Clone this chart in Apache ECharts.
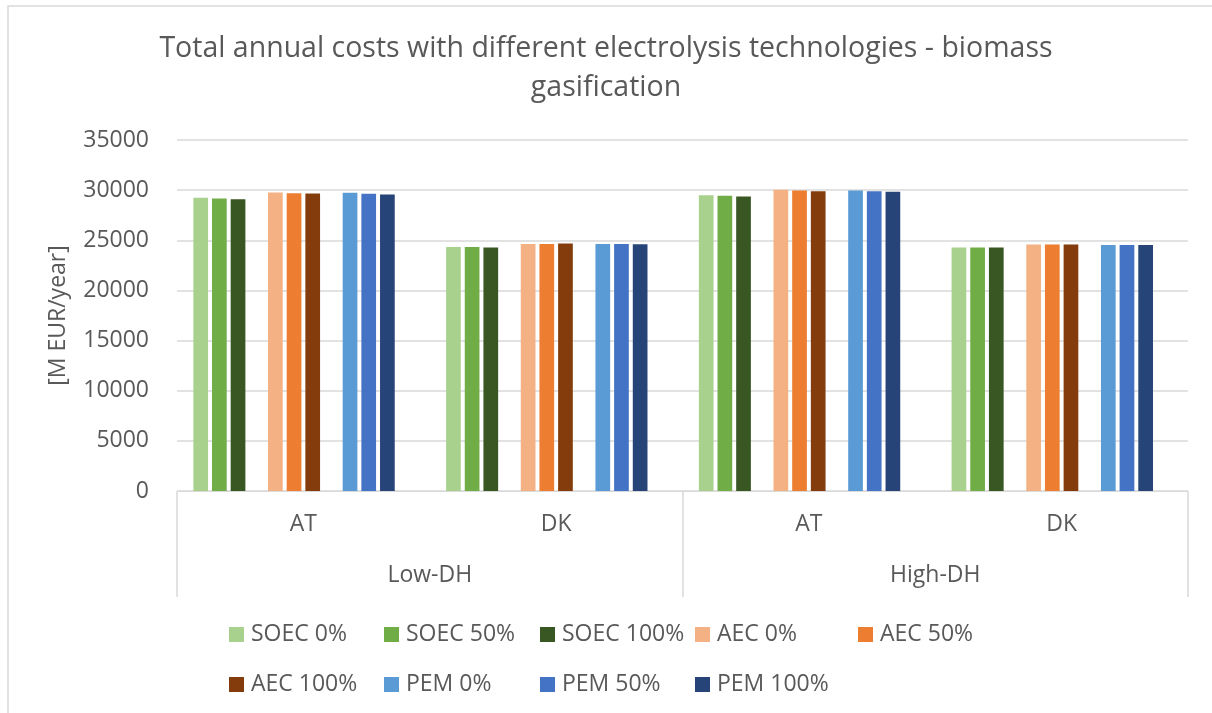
<!DOCTYPE html>
<html>
<head>
<meta charset="utf-8">
<title>Total annual costs - biomass gasification</title>
<script src="https://cdn.jsdelivr.net/npm/echarts@6/dist/echarts.min.js"></script>
<style>
  html, body { margin: 0; padding: 0; background: #ffffff; }
  #chart { width: 1212px; height: 713px; }
</style>
</head>
<body>
<div id="chart"></div>
<script>
// Inner categories (country) and outer categories (district heating level)
const countries = ['AT', 'DK', 'AT', 'DK'];
const dhLevels = ['Low-DH', 'High-DH'];

// Total annual costs [M EUR/year], one value per country/DH column
const soec0   = [29230, 24330, 29500, 24270];
const soec50  = [29170, 24330, 29430, 24270];
const soec100 = [29100, 24270, 29370, 24270];
const aec0    = [29770, 24630, 30030, 24570];
const aec50   = [29700, 24630, 29970, 24570];
const aec100  = [29670, 24670, 29900, 24570];
const pem0    = [29730, 24630, 29970, 24530];
const pem50   = [29630, 24630, 29900, 24530];
const pem100  = [29570, 24600, 29830, 24530];

const yTicks = { min: 0, max: 35000, step: 5000 };

const FONT = '"Open Sans", "Noto Sans", sans-serif';
const TEXT = '#595959';
const LINE = '#D9D9D9';

// Series in drawing order; null entries are spacer columns between technologies
const seriesDefs = [
  { name: 'SOEC 0%',   color: '#A9D18E', data: soec0 },
  { name: 'SOEC 50%',  color: '#70AD47', data: soec50 },
  { name: 'SOEC 100%', color: '#385723', data: soec100 },
  null,
  { name: 'AEC 0%',    color: '#F4B183', data: aec0 },
  { name: 'AEC 50%',   color: '#ED7D31', data: aec50 },
  { name: 'AEC 100%',  color: '#843C0C', data: aec100 },
  null,
  { name: 'PEM 0%',    color: '#5B9BD5', data: pem0 },
  { name: 'PEM 50%',   color: '#4472C4', data: pem50 },
  { name: 'PEM 100%',  color: '#264478', data: pem100 },
  null
];

const series = seriesDefs.map(function (d, i) {
  if (!d) {
    return {
      name: 'spacer' + i, type: 'bar', xAxisIndex: 0,
      data: countries.map(function () { return null; }),
      barWidth: 14.7, barGap: '27%', silent: true
    };
  }
  return {
    name: d.name, type: 'bar', xAxisIndex: 0, data: d.data,
    barWidth: 14.7, barGap: '27%',
    itemStyle: { color: d.color }
  };
});

// Legend laid out as a fixed grid: two rows, equal-width columns
const legendRows = [
  ['SOEC 0%', 'SOEC 50%', 'SOEC 100%', 'AEC 0%', 'AEC 50%'],
  ['AEC 100%', 'PEM 0%', 'PEM 50%', 'PEM 100%']
];
const legendColLeft = [229, 384, 540, 695, 858];
const legendRowTop = [623, 673];

const legends = [];
legendRows.forEach(function (row, r) {
  row.forEach(function (name, c) {
    legends.push({
      data: [name], left: legendColLeft[c], top: legendRowTop[r],
      padding: 0, itemWidth: 15, itemHeight: 15, icon: 'rect',
      selectedMode: false,
      textStyle: { color: TEXT, fontFamily: FONT, fontSize: 23, padding: [0, 0, 0, 2] }
    });
  });
});

const chart = echarts.init(document.getElementById('chart'), null, { renderer: 'canvas' });

chart.setOption({
  animation: false,
  backgroundColor: '#ffffff',
  title: {
    text: 'Total annual costs with different electrolysis technologies - biomass\ngasification',
    left: 'center', top: 24,
    textStyle: { color: TEXT, fontFamily: FONT, fontSize: 28.5, fontWeight: 'normal', lineHeight: 39 }
  },
  legend: legends,
  grid: { left: 177, right: 24, top: 140, bottom: 222, containLabel: false },
  xAxis: [
    {
      type: 'category', data: countries, position: 'bottom',
      axisLine: { show: true, lineStyle: { color: LINE, width: 1 } },
      axisTick: { show: false },
      axisLabel: { color: TEXT, fontFamily: FONT, fontSize: 23, margin: 22 },
      splitLine: { show: false }
    },
    {
      type: 'category', data: dhLevels, position: 'bottom',
      axisLine: { show: false },
      axisTick: { show: true, length: 106, lineStyle: { color: LINE, width: 1.5 } },
      axisLabel: { color: TEXT, fontFamily: FONT, fontSize: 23, margin: 73 },
      splitLine: { show: false }
    }
  ],
  yAxis: {
    type: 'value', min: yTicks.min, max: yTicks.max, interval: yTicks.step,
    name: '[M EUR/year]', nameLocation: 'middle', nameGap: 107, nameRotate: 90,
    nameTextStyle: { color: TEXT, fontFamily: FONT, fontSize: 23 },
    axisLine: { show: false }, axisTick: { show: false },
    axisLabel: {
      color: TEXT, fontFamily: FONT, fontSize: 23, margin: 28,
      formatter: function (v) { return String(v); }
    },
    splitLine: { lineStyle: { color: LINE, width: 1.5 } }
  },
  graphic: [
    {
      type: 'rect', silent: true, z: -1,
      shape: { x: 8, y: 6, width: 1230, height: 730 },
      style: { fill: 'none', stroke: LINE, lineWidth: 1.5 }
    }
  ],
  series: series
});
</script>
</body>
</html>
